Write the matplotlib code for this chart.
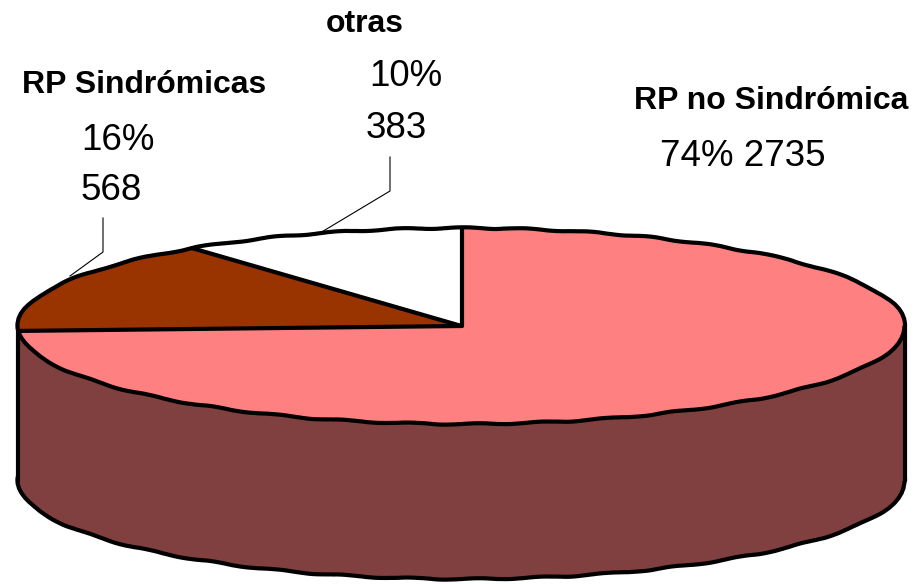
import matplotlib
matplotlib.use('Agg')
import matplotlib.pyplot as plt
import numpy as np
from matplotlib.patches import Rectangle

plt.rcParams['font.family'] = ['Liberation Sans', 'DejaVu Sans']

# valores del grafico
categorias = ['RP no Sindrómica', 'RP Sindrómicas', 'otras']
casos = [2735, 568, 383]
colores = ['#ff8080', '#993300', '#ffffff']

W, H = 922, 584
cx, cy, a, b = 461.5, 326, 443.5, 98
prof = 155 / b

fig = plt.figure(figsize=(W / 100, H / 100), dpi=100, facecolor='white')
ax = fig.add_axes([0, 0, 1, 1])


def contorno(centro, cara, z=1):
    # borde irregular del original
    w, _ = ax.pie([1], colors=[cara], center=centro, wedgeprops=dict(edgecolor='none', linewidth=3))
    w[0].set_edgecolor('k')
    w[0].set_zorder(z)
    w[0].set_sketch_params(0.7, 70, 2)
    return w[0]


# cara inferior y lado
contorno((0, -prof), '#804040')
ax.add_patch(Rectangle((-1, -prof), 2, prof, facecolor='#804040', edgecolor='none', zorder=1))
ax.plot([-1, -1], [0, -prof], c='k', lw=3, solid_capstyle='round', zorder=1)
ax.plot([1, 1], [0, -prof], c='k', lw=3, solid_capstyle='round', zorder=1)

# cara superior
cuñas, _ = ax.pie(casos, colors=colores, startangle=90, counterclock=False, wedgeprops=dict(edgecolor='none'))
for c in cuñas:
    c.set_zorder(2)
borde = contorno((0, 0), 'none', z=3)

# radios rectos entre sectores
angulos = np.deg2rad(90 - 360 * np.cumsum(casos) / np.sum(casos))
for t in angulos:
    ax.plot([0, np.cos(t)], [0, np.sin(t)], c='k', lw=3, solid_capstyle='round', zorder=4)

ax.set_aspect('auto')
ax.set_xlim(-cx / a, (W - cx) / a)
ax.set_ylim(-(H - cy) / b, cy / b)
ax.axis('off')


def px(x, y):
    return x / W, 1 - y / H


# lineas guia
for xs, ys in [([320, 390, 390], [233, 191, 157]), ([70, 103, 103], [276, 252, 218])]:
    fig.add_artist(plt.Line2D([x / W for x in xs], [1 - y / H for y in ys], c='k', lw=0.8))

# etiquetas
tb = dict(fontsize=23, fontweight='bold', ha='center', va='center')
tn = dict(fontsize=26.5, ha='center', va='center')
fig.text(*px(771, 101), categorias[0], **tb)
fig.text(*px(743, 157), '74% 2735', **tn)
fig.text(*px(144, 85), categorias[1], **tb)
fig.text(*px(118, 141), '16%', **tn)
fig.text(*px(111, 190), '568', **tn)
fig.text(*px(365, 24), categorias[2], **tb)
fig.text(*px(406, 76), '10%', **tn)
fig.text(*px(396, 128), '383', **tn)

fig.savefig('out.png', dpi=100, facecolor='white')
